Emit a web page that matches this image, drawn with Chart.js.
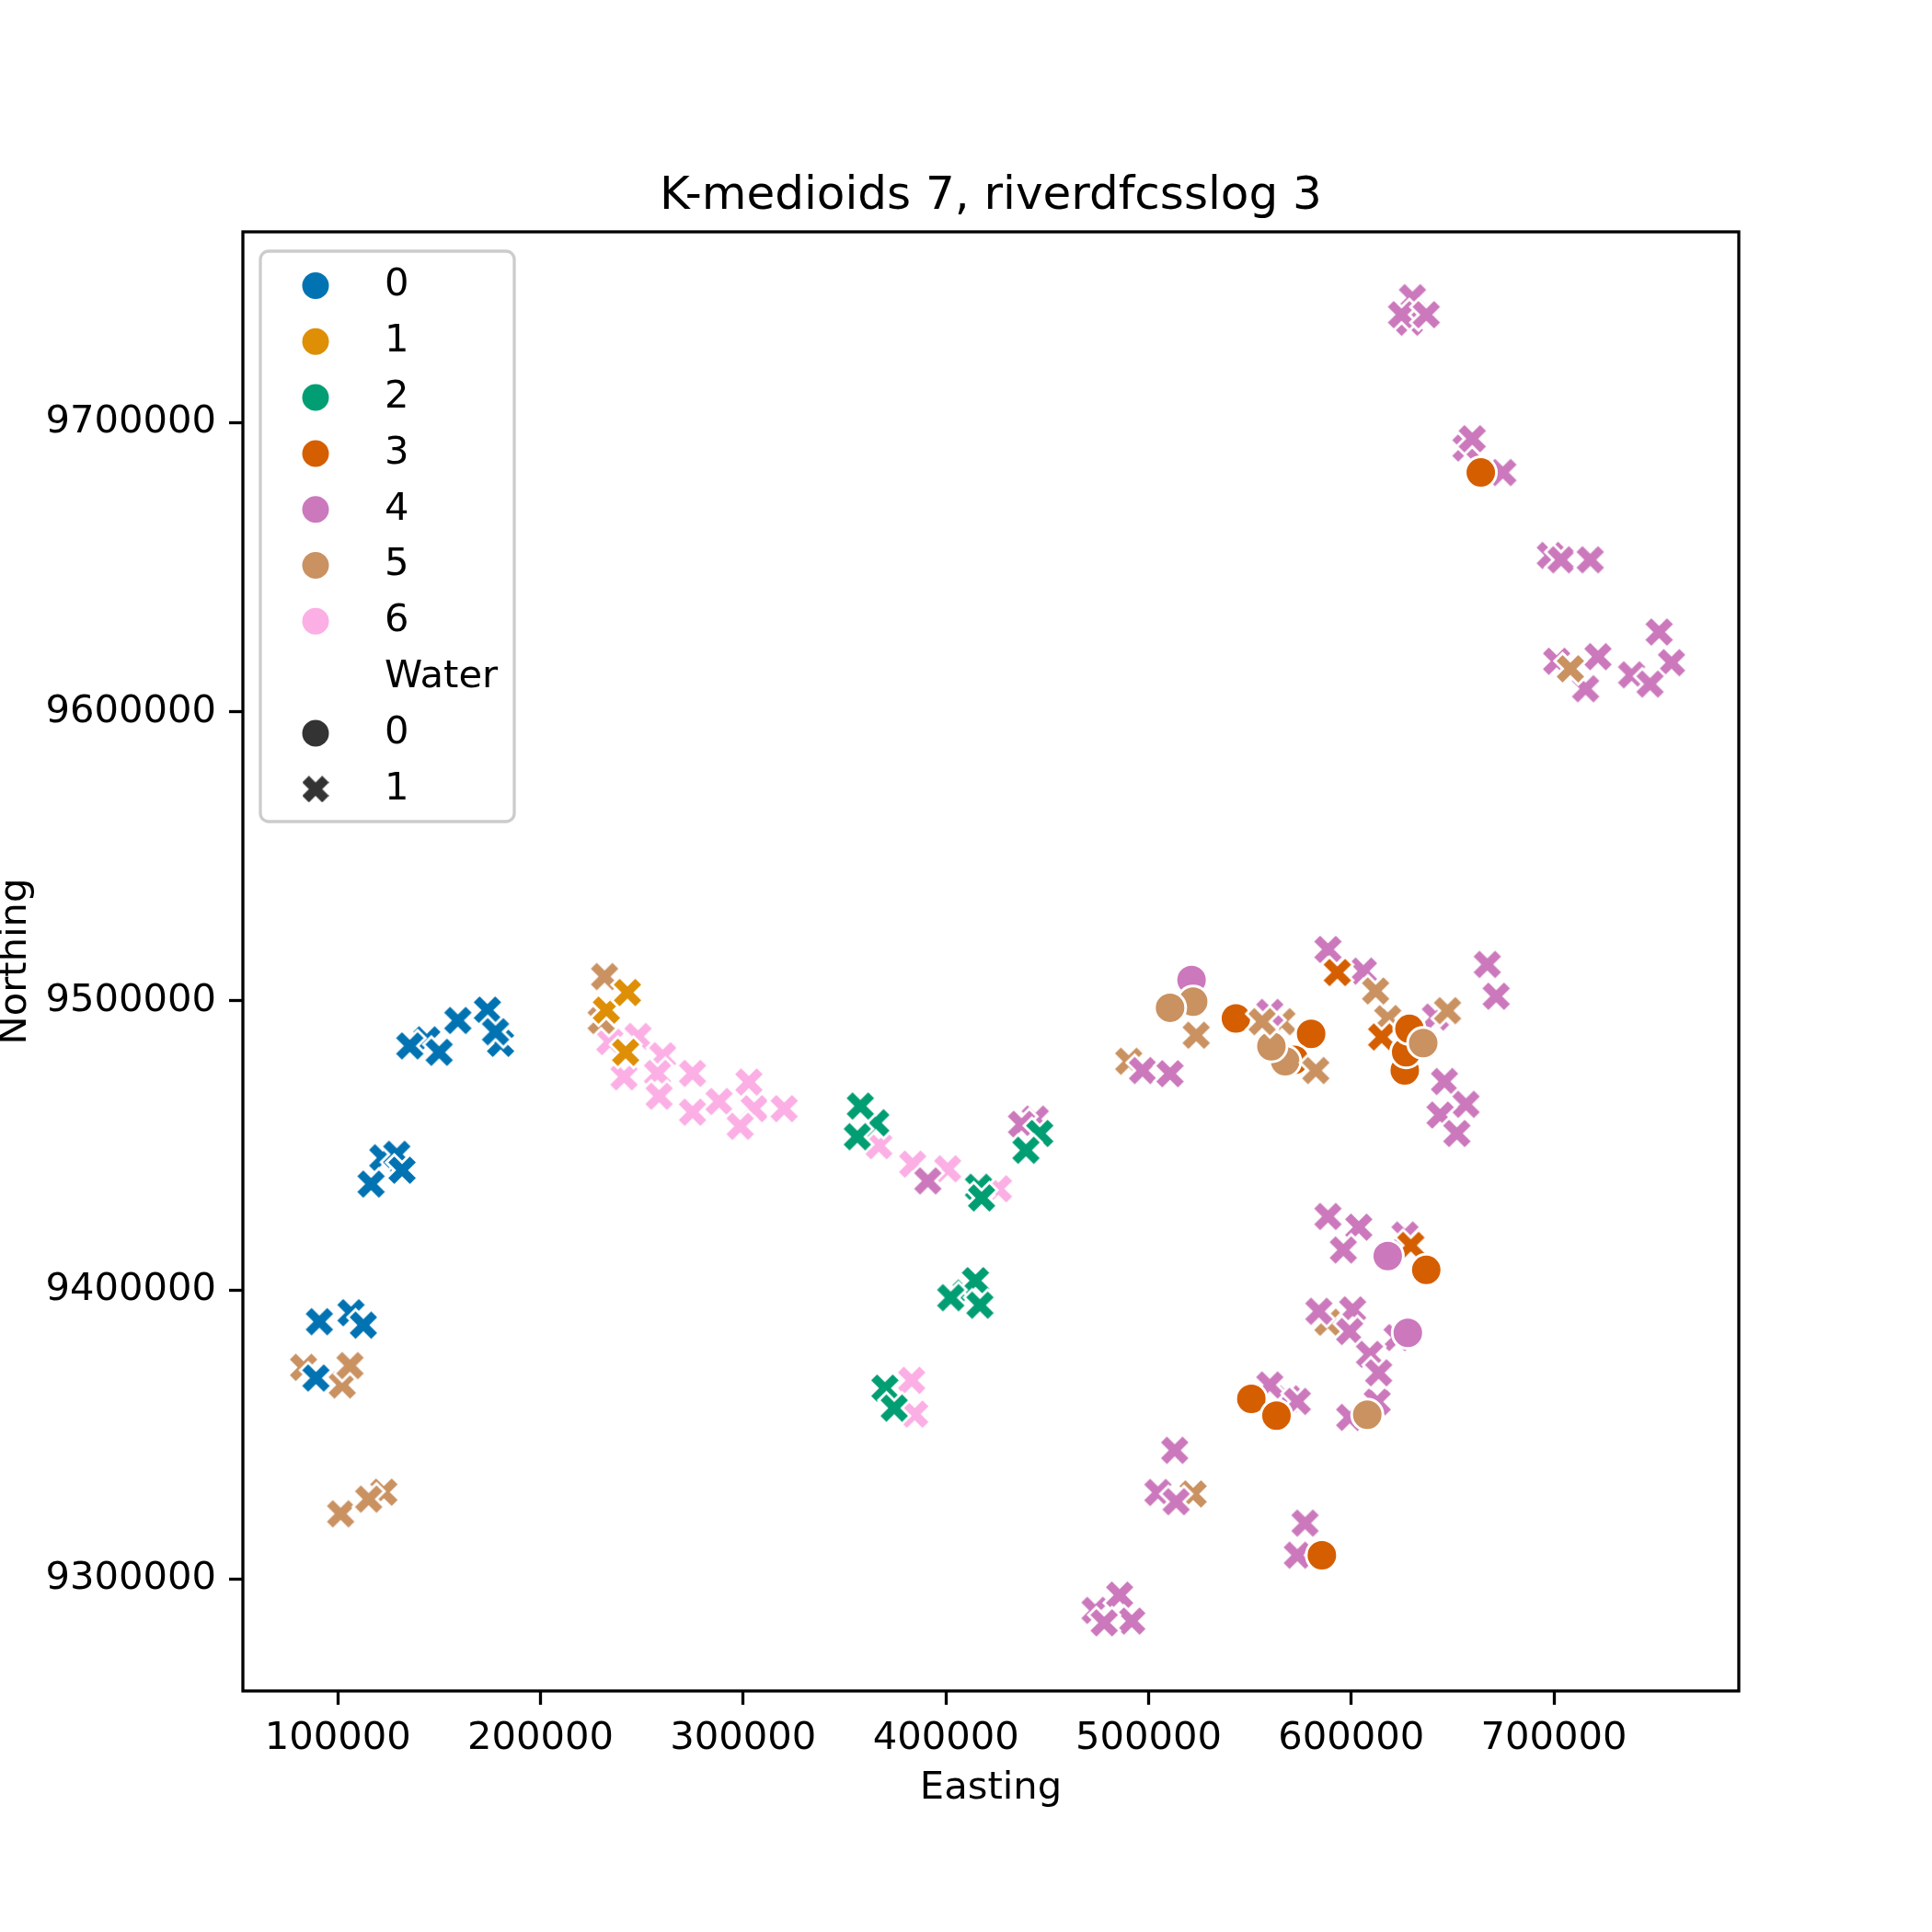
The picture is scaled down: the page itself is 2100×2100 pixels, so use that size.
<!DOCTYPE html>
<html>
<head>
<meta charset="utf-8">
<script src="https://cdn.jsdelivr.net/npm/chart.js@4.4.1/dist/chart.umd.min.js"></script>
<style>
html, body { margin: 0; padding: 0; background: #fff; }
canvas { display: block; }
</style>
</head>
<body>
<canvas id="kmChart" width="2100" height="2100"></canvas>
<script>
// seaborn "colorblind" colours, one per cluster
var clusterColors = ['#0173b2', '#de8f05', '#029e73', '#d55e00', '#cc78bc', '#ca9161', '#fbafe4'];
var clusterNames = ['0', '1', '2', '3', '4', '5', '6'];
var waterNames = ['0', '1'];
var chartTitle = 'K-medioids 7, riverdfcsslog 3';

var xTicks = [100000, 200000, 300000, 400000, 500000, 600000, 700000];
var yTicks = [9300000, 9400000, 9500000, 9600000, 9700000];

// [Easting, Northing] - Water = 1 drawn as X, Water = 0 as circles
var c0Water1 = [[143900, 9486500], [180300, 9485300], [122200, 9445700], [129100, 9446900], [106500, 9392100],
    [135500, 9484400], [150000, 9482200], [159200, 9493200], [173800, 9496800], [177800, 9489300],
    [116400, 9436600], [131700, 9441400], [90900, 9389000], [112600, 9387800], [89200, 9369500]];

var c1Water1 = [[232500, 9496800], [242900, 9502900], [242000, 9482200]];

var c2Water1 = [[365400, 9457800], [416100, 9435500], [410000, 9398900], [369900, 9366000],
    [357800, 9463600], [356300, 9453000], [417600, 9431800], [446300, 9454100], [439500, 9448300],
    [414600, 9403200], [402400, 9397300], [416800, 9394700], [374500, 9359100]];

var c3Water1 = [[629400, 9415400], [615000, 9487500], [593100, 9509800]];
var c3Water0 = [[626400, 9475900], [627100, 9482200], [628700, 9490300], [543100, 9493900], [580200, 9488600],
    [571900, 9479600], [637000, 9406900], [550700, 9362300], [563100, 9356500], [585500, 9308200],
    [663900, 9682800]];

var c4Water1 = [[559800, 9496000], [606000, 9510300], [641500, 9494400], [626500, 9419000], [568900, 9362300],
    [612800, 9361300], [599200, 9355900], [573400, 9308200], [473600, 9289100], [628700, 9734800],
    [656600, 9691300], [674800, 9682800], [659700, 9694500], [698200, 9654100], [701300, 9617500],
    [444100, 9459100],
    [497000, 9475900], [510600, 9474800], [588500, 9517800], [667100, 9512600], [671500, 9501600],
    [646000, 9472100], [656600, 9464200], [643800, 9460500], [652100, 9454100], [588500, 9425400],
    [603700, 9421700], [596100, 9413800], [584000, 9392600], [600700, 9393100], [599200, 9385600],
    [622600, 9383500], [609000, 9377700], [613500, 9371300], [559800, 9367100], [573400, 9361400],
    [512900, 9344500], [504600, 9329900], [513600, 9326700], [577200, 9319300], [485700, 9294400],
    [491700, 9285400], [478100, 9284800], [630200, 9743300], [624800, 9737400], [637000, 9737400],
    [703500, 9652600], [717900, 9652600], [721700, 9619100], [715600, 9608000], [751900, 9627600],
    [758000, 9617000], [738300, 9612800], [747400, 9609600], [391100, 9437700], [437300, 9457300]];
var c4Water0 = [[521200, 9507200], [618000, 9411700], [627900, 9385100]];

// cluster 5, water 1: points lying underneath other markers, then the ones on top
var c5Water1Back = [[83100, 9373200], [102200, 9367100], [490200, 9479100], [565800, 9492800],
    [618000, 9493900], [588500, 9388800], [522000, 9329400]];
var c5Water1 = [[229900, 9493200], [122700, 9330000],
    [231600, 9508400], [106000, 9373800], [101400, 9322500], [115200, 9327600], [523500, 9488100],
    [556000, 9492800], [582500, 9475900], [612000, 9503400], [647500, 9496600], [708100, 9614900]];
var c5Water0 = [[567400, 9479100], [560600, 9484300], [522000, 9499700], [510600, 9497600], [635500, 9485400],
    [607900, 9356800]];

var c6Water1 = [[234200, 9485900], [248100, 9487700], [260300, 9481000], [305400, 9462700], [383600, 9443500],
    [241200, 9473700], [257700, 9474900], [258500, 9467000], [275000, 9474900], [275000, 9461500],
    [288100, 9465200], [302800, 9471900], [298500, 9456600], [320200, 9462700], [366900, 9449900],
    [400900, 9441900], [425900, 9435000], [383100, 9368700], [384600, 9357000]];

// matplotlib filled "X" marker, drawn once per colour
function makeCross(color, size, edge) {
    var full = Math.ceil(size + edge * 2);
    var c = document.createElement('canvas');
    c.width = full;
    c.height = full;
    var g = c.getContext('2d');
    var pts = [[-1, -2], [0, -1], [1, -2], [2, -1], [1, 0], [2, 1], [1, 2], [0, 1], [-1, 2], [-2, 1], [-1, 0], [-2, -1]];
    g.translate(full / 2, full / 2);
    g.beginPath();
    pts.forEach(function (p, i) {
        var x = p[0] / 4 * size, y = p[1] / 4 * size;
        if (i === 0) g.moveTo(x, y); else g.lineTo(x, y);
    });
    g.closePath();
    g.fillStyle = color;
    g.fill();
    if (edge > 0) {
        g.lineWidth = edge;
        g.strokeStyle = '#fff';
        g.stroke();
    }
    return c;
}

function toXY(arr) {
    return arr.map(function (p) { return { x: p[0], y: p[1] }; });
}

function crossSet(data, cluster, order) {
    return {
        label: clusterNames[cluster],
        data: toXY(data),
        pointStyle: makeCross(clusterColors[cluster], 34, 3),
        pointRadius: 18,
        order: order
    };
}

function circleSet(data, cluster, order) {
    return {
        label: clusterNames[cluster],
        data: toXY(data),
        pointStyle: 'circle',
        pointRadius: 17,
        pointBackgroundColor: clusterColors[cluster],
        pointBorderColor: '#fff',
        pointBorderWidth: 3,
        order: order
    };
}

// lower order = drawn later (on top)
var datasets = [
    crossSet(c1Water1, 1, 0),
    crossSet(c0Water1, 0, 1),
    crossSet(c5Water1, 5, 2),
    circleSet(c5Water0, 5, 3),
    circleSet(c3Water0, 3, 4),
    circleSet(c4Water0, 4, 5),
    crossSet(c3Water1, 3, 6),
    crossSet(c2Water1, 2, 7),
    crossSet(c4Water1, 4, 8),
    crossSet(c5Water1Back, 5, 9),
    crossSet(c6Water1, 6, 10)
];

// axes frame like matplotlib spines, title centred over the axes
var framePlugin = {
    id: 'frame',
    afterDatasetsDraw: function (chart) {
        var a = chart.chartArea, ctx = chart.ctx;
        ctx.save();
        ctx.strokeStyle = '#000';
        ctx.lineWidth = 3.3;
        ctx.strokeRect(a.left, a.top, a.right - a.left, a.bottom - a.top);
        ctx.font = '50px "DejaVu Sans"';
        ctx.fillStyle = '#000';
        ctx.textAlign = 'center';
        ctx.textBaseline = 'alphabetic';
        ctx.fillText(chartTitle, (a.left + a.right) / 2, a.top - 25);
        ctx.restore();
    }
};

// legend in the upper left of the axes (hue + style sections)
var legendPlugin = {
    id: 'boxLegend',
    afterDraw: function (chart) {
        var ctx = chart.ctx;
        var left = 283, top = 273, w = 276, h = 620, r = 9;
        var mx = 343, tx = 418, y0 = 310.5, dy = 60.8;
        ctx.save();
        ctx.beginPath();
        ctx.moveTo(left + r, top);
        ctx.arcTo(left + w, top, left + w, top + h, r);
        ctx.arcTo(left + w, top + h, left, top + h, r);
        ctx.arcTo(left, top + h, left, top, r);
        ctx.arcTo(left, top, left + w, top, r);
        ctx.closePath();
        ctx.fillStyle = 'rgba(255,255,255,0.8)';
        ctx.fill();
        ctx.lineWidth = 3.3;
        ctx.strokeStyle = '#cccccc';
        ctx.stroke();

        ctx.font = '41.67px "DejaVu Sans"';
        ctx.fillStyle = '#000';
        ctx.textBaseline = 'middle';
        ctx.textAlign = 'left';
        var row = 0;
        clusterNames.forEach(function (name, i) {
            var y = y0 + row * dy;
            ctx.beginPath();
            ctx.arc(mx, y, 14.5, 0, Math.PI * 2);
            ctx.fillStyle = clusterColors[i];
            ctx.fill();
            ctx.fillStyle = '#000';
            ctx.fillText(name, tx, y);
            row++;
        });
        ctx.fillText('Water', tx, y0 + row * dy);
        row++;
        var y = y0 + row * dy;
        ctx.beginPath();
        ctx.arc(mx, y, 14.5, 0, Math.PI * 2);
        ctx.fillStyle = '#333333';
        ctx.fill();
        ctx.fillStyle = '#000';
        ctx.fillText(waterNames[0], tx, y);
        row++;
        y = y0 + row * dy;
        var xm = makeCross('#333333', 29, 0);
        ctx.drawImage(xm, mx - xm.width / 2, y - xm.height / 2);
        ctx.fillText(waterNames[1], tx, y);
        ctx.restore();
    }
};

Chart.defaults.font.family = '"DejaVu Sans"';
Chart.defaults.color = '#000';

var ctx = document.getElementById('kmChart').getContext('2d');
var kmChart = new Chart(ctx, {
    type: 'scatter',
    data: { datasets: datasets },
    options: {
        responsive: false,
        animation: false,
        devicePixelRatio: 1,
        events: [],
        layout: { padding: { left: 0, right: 210, top: 252, bottom: 0 } },
        plugins: {
            legend: { display: false },
            tooltip: { enabled: false },
            title: { display: false }
        },
        scales: {
            x: {
                type: 'linear',
                min: 53157,
                max: 791199,
                afterBuildTicks: function (scale) {
                    scale.ticks = xTicks.map(function (v) { return { value: v }; });
                },
                afterFit: function (scale) { scale.height = 262; },
                grid: { drawOnChartArea: false, drawTicks: true, tickLength: 15, tickWidth: 3.3, tickColor: '#000' },
                border: { display: false },
                ticks: {
                    font: { size: 41.67 },
                    color: '#000',
                    padding: 12,
                    maxRotation: 0,
                    callback: function (v) { return String(v); }
                },
                title: {
                    display: true,
                    text: 'Easting',
                    font: { size: 41.67, lineHeight: 1.2 },
                    color: '#000',
                    padding: { top: 0, bottom: 131 }
                }
            },
            y: {
                type: 'linear',
                min: 9261222,
                max: 9766066,
                afterBuildTicks: function (scale) {
                    scale.ticks = yTicks.map(function (v) { return { value: v }; });
                },
                afterFit: function (scale) { scale.width = 264; },
                grid: { drawOnChartArea: false, drawTicks: true, tickLength: 15, tickWidth: 3.3, tickColor: '#000' },
                border: { display: false },
                ticks: {
                    font: { size: 41.67 },
                    color: '#000',
                    padding: 14,
                    callback: function (v) { return String(v); }
                },
                title: {
                    display: true,
                    text: 'Northing',
                    font: { size: 41.67, lineHeight: 0.82 },
                    color: '#000',
                    padding: { top: 0, bottom: 0 }
                }
            }
        }
    },
    plugins: [framePlugin, legendPlugin]
});
</script>
</body>
</html>
